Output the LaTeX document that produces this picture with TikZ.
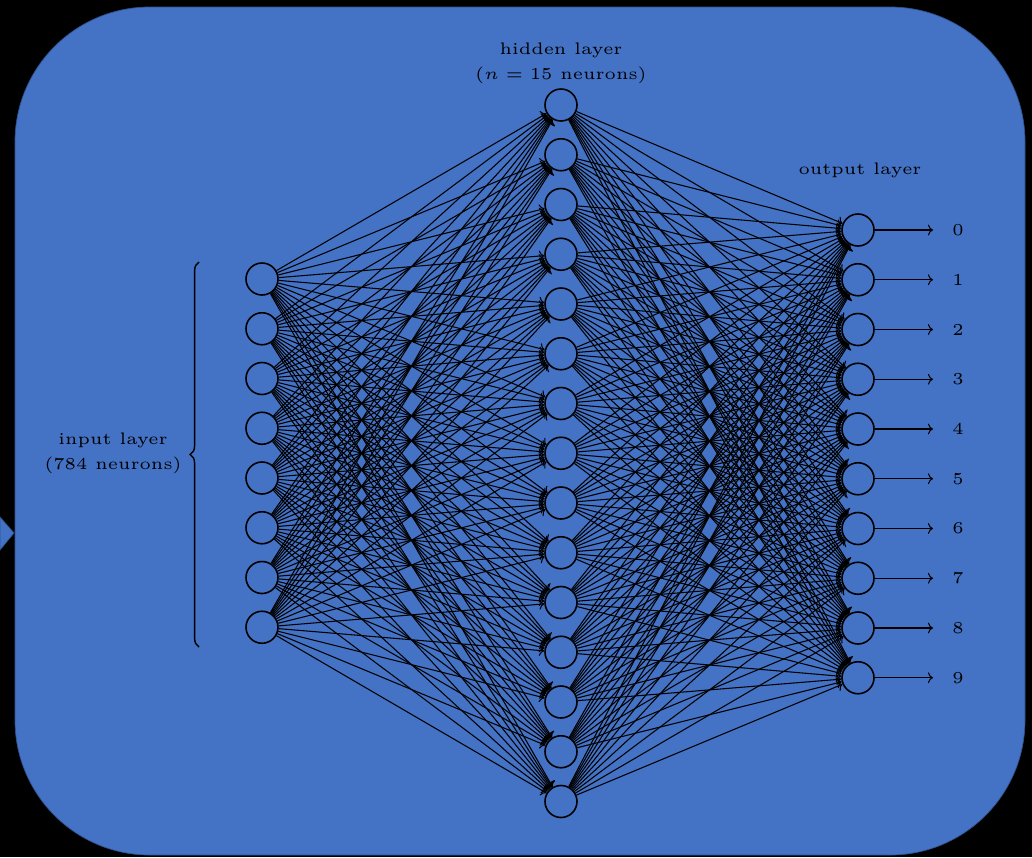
\documentclass[tikz,border=0pt]{standalone}
\usetikzlibrary{arrows.meta,decorations.pathreplacing}
\definecolor{slideblue}{HTML}{4472C4}
\definecolor{slideedge}{HTML}{2F528F}

\begin{document}
\begin{tikzpicture}[>=To,font=\tiny,
  neuron/.style={circle,draw,line width=0.9pt,minimum size=0.64cm,inner sep=0pt},
  wire/.style={->,line width=0.6pt},
  caption/.style={scale=1.9,align=center}]
  % slide backdrop
  \fill[black] (0,0) rectangle (20.64,-17.14);
  \useasboundingbox (0,0) rectangle (20.64,-17.14);
  \filldraw[slideedge,fill=slideblue,rounded corners=2.7cm] (0.3,-0.14) rectangle (20.5,-17.1);
  \filldraw[slideedge,fill=slideblue] (0,-10.34) -- (0.28,-10.66) -- (0,-11.0) -- cycle;

  % layers
  \foreach \i in {1,...,8}
     \node[neuron] (I-\i) at (5.24,{-5.58-0.995*(\i-1)}) {};
  \foreach \j in {1,...,15}
     \node[neuron] (H-\j) at (11.22,{-2.1-0.995*(\j-1)}) {};
  \foreach \d in {0,...,9}
     \node[neuron] (O-\d) at (17.16,{-4.6-0.995*\d}) {};

  % weights
  \foreach \i in {1,...,8}
     \foreach \j in {1,...,15}
        \draw[wire] (I-\i) -- (H-\j);
  \foreach \j in {1,...,15}
     \foreach \d in {0,...,9}
        \draw[wire] (H-\j) -- (O-\d);

  % digits out
  \foreach \d in {0,...,9}{
     \node[caption] (L-\d) at (19.16,{-4.6-0.995*\d}) {\d};
     \draw[wire,shorten >=0.15cm] (O-\d) -- (L-\d);
  }

  \node[caption] (hid-lab) at (11.22,-1.26) {hidden layer\\[1.5pt]($n=15$ neurons)};
  \node[caption] (out-lab) at (17.2,-3.4) {output layer};
  \node[caption] (in-lab) at (2.26,-9.06) {input layer\\[1.5pt](784 neurons)};
  \coordinate (brace-top) at (3.98,-5.24);
  \coordinate (brace-bot) at (3.98,-12.94);
  \draw[line width=0.8pt,decorate,decoration={brace,amplitude=5pt}] (brace-bot) -- (brace-top);
\end{tikzpicture}
\end{document}
